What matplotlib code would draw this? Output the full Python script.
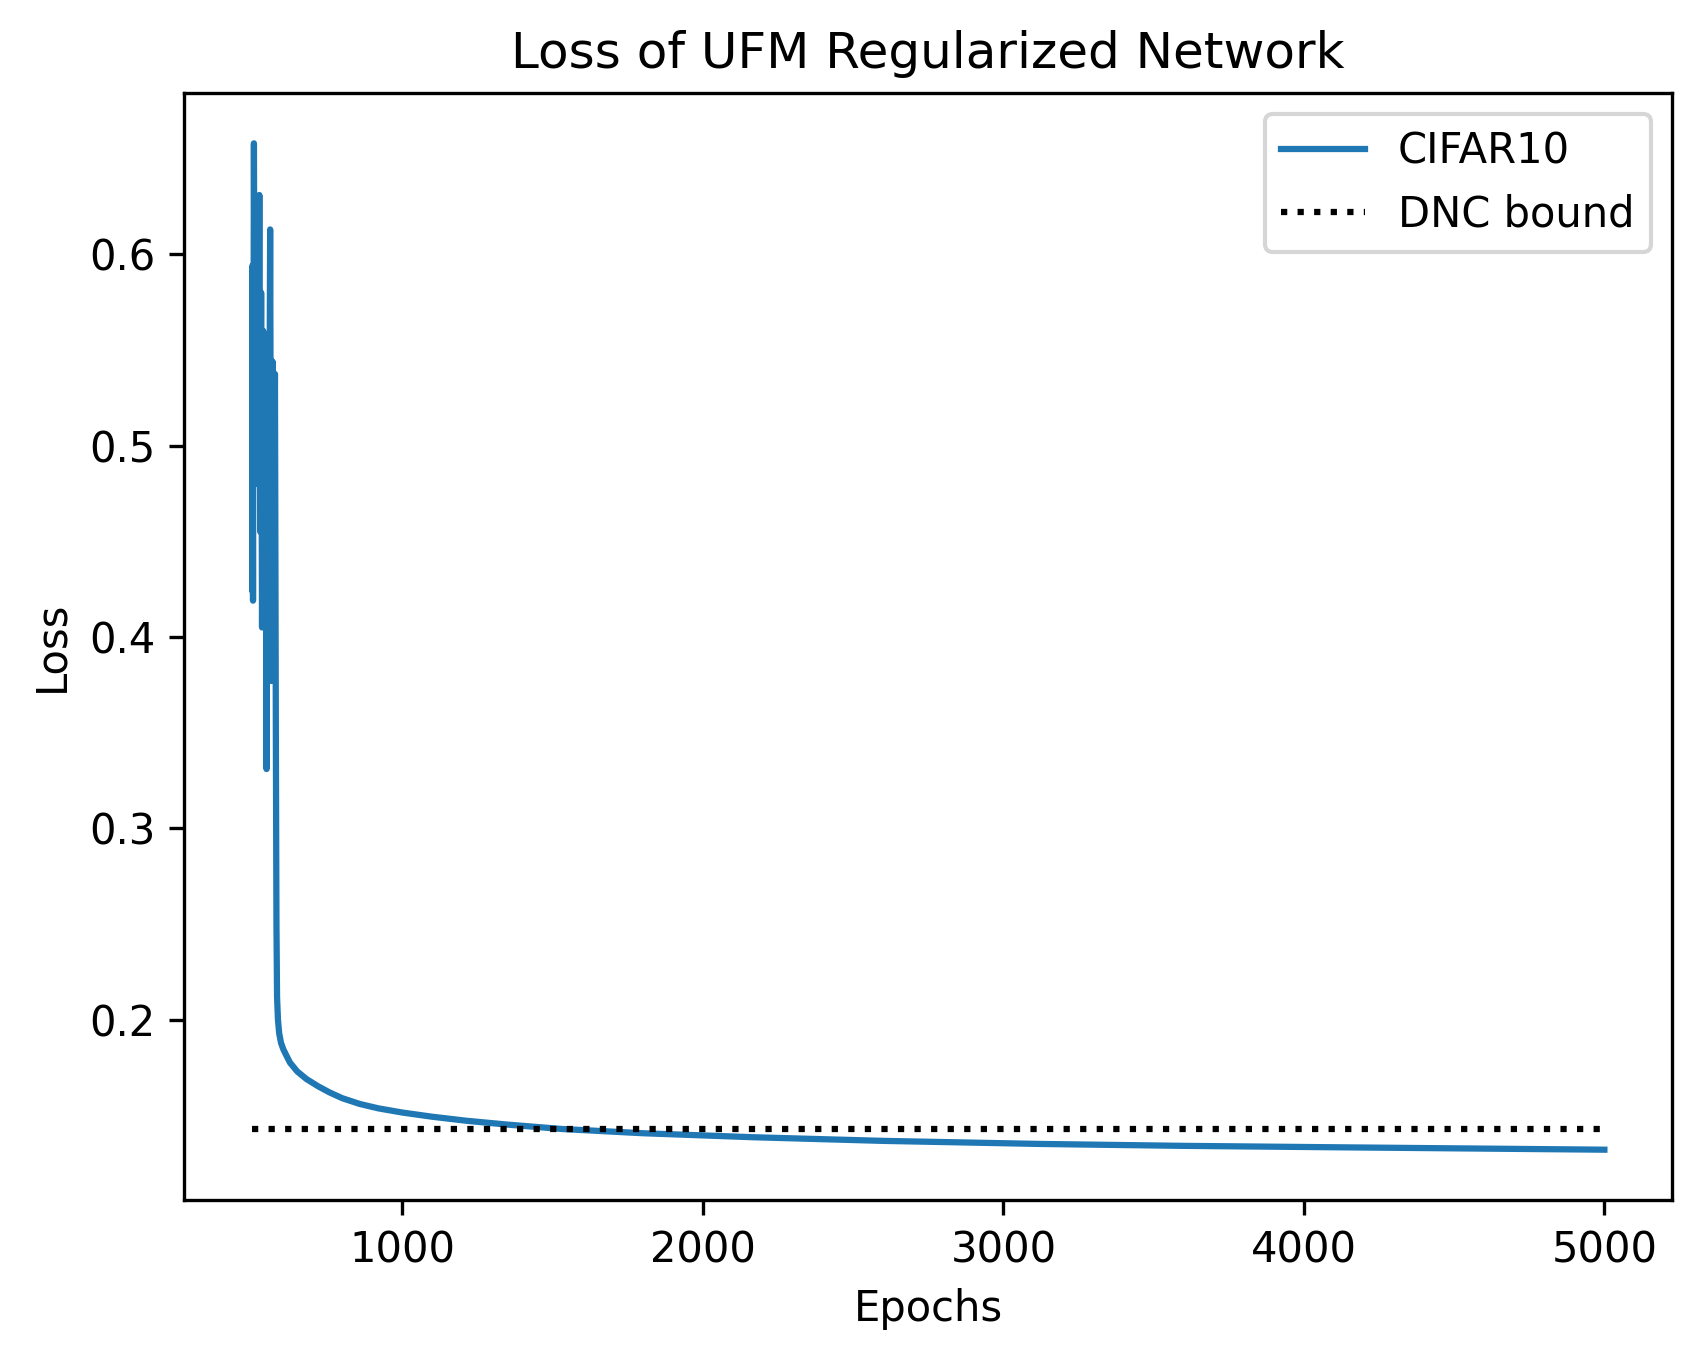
import numpy as np
import matplotlib
matplotlib.use('Agg')
import matplotlib.pyplot as plt

# Datos
epochs = [500, 501, 503, 506, 509, 512, 515, 518, 521, 524, 527, 530, 533,
          537, 541, 545, 548, 552, 556, 560, 564, 568, 572, 576, 579, 581,
          583, 586, 590, 596, 604, 615, 626, 650, 681, 720, 758, 800, 858,
          920, 1000, 1100, 1214, 1350, 1532, 1800, 2168, 2600, 3122, 3600,
          4077, 4500, 5000]
loss = [0.425, 0.594, 0.419, 0.658, 0.50, 0.62, 0.48, 0.60, 0.50, 0.631,
        0.455, 0.58, 0.405, 0.56, 0.48, 0.55, 0.331, 0.52, 0.44, 0.613,
        0.377, 0.544, 0.42, 0.5375, 0.35, 0.25,
        0.212, 0.200, 0.193, 0.188, 0.1845, 0.181, 0.1776, 0.173, 0.169,
        0.1652, 0.162, 0.159, 0.156, 0.1537, 0.1515, 0.1493, 0.1472,
        0.1452, 0.1429, 0.1407, 0.1386, 0.1367, 0.1351, 0.1341, 0.1334,
        0.1328, 0.1321]

dnc_epochs = [500, 5000]
dnc_bound = [0.1429, 0.1429]

fig = plt.figure(figsize=(1702 / 300, 1361 / 300), dpi=300)
ax = fig.add_axes([184.5 / 1702, 1 - 1200 / 1361, (1672 - 184.5) / 1702, (1200 - 93) / 1361])

ax.plot(epochs, loss, color='#1f77b4', linewidth=1.5, label='CIFAR10')
ax.plot(dnc_epochs, dnc_bound, color='black', linestyle=':', linewidth=1.5, label='DNC bound')

ax.set_xlabel('Epochs')
ax.set_ylabel('Loss')
ax.set_title('Loss of UFM Regularized Network')
ax.legend(loc='upper right')

fig.savefig('out.png', dpi=300)
